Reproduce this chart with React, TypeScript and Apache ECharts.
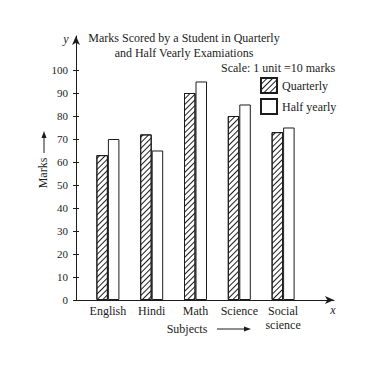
import React, { useEffect, useRef } from "react";
import * as echarts from "echarts";

const categories = ["English", "Hindi", "Math", "Science", "Social\nscience"];
const quarterly = [63, 72, 90, 80, 73];
const halfYearly = [70, 65, 95, 85, 75];
const yTicks = [0, 10, 20, 30, 40, 50, 60, 70, 80, 90, 100];

const FONT = "'Liberation Serif', 'Times New Roman', serif";
const INK = "#1c1c1c";
const Y_MAX = 114.78;

export default function App() {
  const ref = useRef<HTMLDivElement>(null);
  useEffect(() => {
    if (!ref.current) return;
    const chart = echarts.init(ref.current, null, { renderer: "svg" });
    const hatch = {
      symbol: "rect",
      symbolSize: 1,
      color: INK,
      backgroundColor: "#fff",
      dashArrayX: [1, 0],
      dashArrayY: [0.9, 2.6],
      rotation: -Math.PI / 4,
    };
    chart.setOption({
      animation: false,
      backgroundColor: "#fff",
      textStyle: { fontFamily: FONT, color: INK },
      grid: [
        { left: 76, right: 41, top: 36, bottom: 68 },
        { left: 86, right: 70, top: 36, bottom: 68 },
      ],
      xAxis: [
        {
          type: "value",
          gridIndex: 0,
          min: 0,
          max: 1,
          axisLine: { show: true, symbol: ["none", "arrow"], symbolSize: [6, 9], lineStyle: { color: INK, width: 1 } },
          axisTick: { show: false },
          axisLabel: { show: false },
          splitLine: { show: false },
        },
        {
          type: "category",
          gridIndex: 1,
          data: categories,
          axisLine: { show: false },
          axisTick: { show: false },
          axisLabel: { interval: 0, margin: 4, fontSize: 12, fontFamily: FONT, color: INK, lineHeight: 14 },
          splitLine: { show: false },
        },
      ],
      yAxis: [
        {
          type: "value",
          gridIndex: 0,
          position: "left",
          min: 0,
          max: Y_MAX,
          axisLine: { show: true, symbol: ["none", "arrow"], symbolSize: [6, 9], lineStyle: { color: INK, width: 1 } },
          axisTick: { show: true, inside: true, length: 3, customValues: yTicks, lineStyle: { color: INK } },
          axisLabel: { show: true, margin: 8, fontSize: 11, fontFamily: FONT, color: INK, customValues: yTicks },
          splitLine: { show: false },
        },
        {
          type: "value",
          gridIndex: 0,
          position: "left",
          offset: 0,
          min: 0,
          max: Y_MAX,
          axisLine: { show: false },
          axisTick: { show: true, inside: false, length: 3, customValues: yTicks, lineStyle: { color: INK } },
          axisLabel: { show: false },
          splitLine: { show: false },
        },
        {
          type: "value",
          gridIndex: 1,
          min: 0,
          max: Y_MAX,
          show: false,
        },
      ],
      legend: {
        orient: "vertical",
        left: 260,
        top: 77,
        padding: 0,
        itemWidth: 16,
        itemHeight: 15,
        itemGap: 4,
        textStyle: { fontSize: 12, fontFamily: FONT, color: INK },
        data: [
          { name: "Quarterly", icon: "rect" },
          { name: "Half yearly", icon: "rect" },
        ],
      },
      series: [
        {
          name: "Quarterly",
          type: "bar",
          xAxisIndex: 1,
          yAxisIndex: 2,
          data: quarterly,
          barWidth: 11.5,
          barGap: "0%",
          itemStyle: { color: "#fff", borderColor: INK, borderWidth: 1, decal: hatch },
        },
        {
          name: "Half yearly",
          type: "bar",
          xAxisIndex: 1,
          yAxisIndex: 2,
          data: halfYearly,
          barWidth: 11.5,
          barGap: "0%",
          itemStyle: { color: "#fff", borderColor: INK, borderWidth: 1 },
        },
      ],
      graphic: [
        {
          type: "text",
          x: 184,
          y: 30,
          style: {
            text: "Marks Scored by a Student in Quarterly\nand Half Vearly Examiations",
            align: "center",
            verticalAlign: "top",
            fontSize: 12,
            lineHeight: 15,
            fontFamily: FONT,
            fill: INK,
          },
        },
        {
          type: "text",
          x: 221,
          y: 68,
          style: { text: "Scale: 1 unit =10 marks", verticalAlign: "middle", fontSize: 12, fontFamily: FONT, fill: INK },
        },
        {
          type: "text",
          x: 66,
          y: 39,
          style: { text: "y", align: "center", verticalAlign: "middle", fontStyle: "italic", fontSize: 12, fontFamily: FONT, fill: INK },
        },
        {
          type: "text",
          x: 333,
          y: 310,
          style: { text: "x", align: "center", verticalAlign: "middle", fontStyle: "italic", fontSize: 12, fontFamily: FONT, fill: INK },
        },
        {
          type: "text",
          x: 43,
          y: 173,
          rotation: Math.PI / 2,
          style: { text: "Marks", align: "center", verticalAlign: "middle", fontSize: 12, fontFamily: FONT, fill: INK },
        },
        {
          type: "line",
          shape: { x1: 44, y1: 153, x2: 44, y2: 137 },
          style: { stroke: INK, lineWidth: 1 },
        },
        {
          type: "polygon",
          shape: { points: [[44, 131], [41.5, 138], [46.5, 138]] },
          style: { fill: INK },
        },
        {
          type: "text",
          x: 187,
          y: 329,
          style: { text: "Subjects", align: "center", verticalAlign: "middle", fontSize: 12, fontFamily: FONT, fill: INK },
        },
        {
          type: "line",
          shape: { x1: 217, y1: 329, x2: 246, y2: 329 },
          style: { stroke: INK, lineWidth: 1 },
        },
        {
          type: "polygon",
          shape: { points: [[251, 329], [244, 326.5], [244, 331.5]] },
          style: { fill: INK },
        },
      ],
    });
    return () => chart.dispose();
  }, []);
  return <div ref={ref} style={{ position: "absolute", left: 0, top: 0, width: 375, height: 368 }} />;
}
